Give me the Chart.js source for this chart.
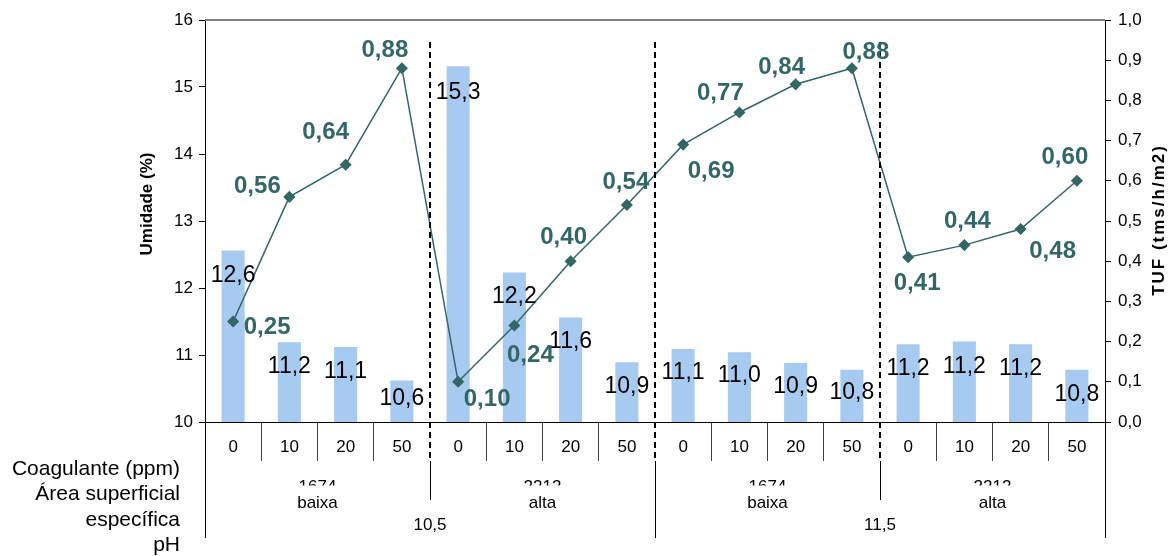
<!DOCTYPE html>
<html><head><meta charset="utf-8">
<script src="https://cdn.jsdelivr.net/npm/chart.js@4"></script>
<style>html,body{margin:0;padding:0;background:#fff}#wrap{width:1175px;height:556px;position:relative}</style>
</head><body><div id="wrap"><canvas id="c"></canvas></div>
<script>
// ---- data ----
const coagulante = ['0','10','20','50','0','10','20','50','0','10','20','50','0','10','20','50'];
const areaValor = ['1674','2212','1674','2212'];
const areaClasse = ['baixa','alta','baixa','alta'];
const phValores = ['10,5','11,5'];
const linhaTitulos = ['Coagulante (ppm)','Área superficial','específica','pH'];
const umidade = [12.56,11.19,11.12,10.62,15.31,12.23,11.56,10.89,11.09,11.04,10.88,10.78,11.16,11.20,11.16,10.78];
const tuf = [0.25,0.56,0.64,0.88,0.10,0.24,0.40,0.54,0.69,0.77,0.84,0.88,0.41,0.44,0.48,0.60];
const tituloEsq = 'Umidade (%)';
const tituloDir = 'TUF (tms/h/m2)';

// ---- label placement (relative to marks) ----
const tufLabelOff = [[34,6],[-32,-11],[-20,-32],[-17,-18],[29,18],[16,30],[-7,-24],[-1,-23],[28,27],[-19,-19],[-14,-17],[14,-16],[9,26],[3,-24],[32,22],[-12,-23]];
const barLabelDy = [25,24,25,18,26,24,24,24,24,23,24,23,24,25,24,25];

const F = "'Liberation Sans', Arial, sans-serif";
const fmt = (v,d) => v.toFixed(d).replace('.', ',');

const decor = {
  id: 'decor',
  afterDatasetsDraw(chart) {
    const {ctx, chartArea: a, scales: {x}} = chart;
    const px = i => x.getPixelForValue(i);
    const edge = i => i === 0 ? a.left : (i === 16 ? a.right : (px(i-1) + px(i)) / 2);
    const ln = (x1,y1,x2,y2) => { ctx.beginPath(); ctx.moveTo(x1,y1); ctx.lineTo(x2,y2); ctx.stroke(); };
    ctx.save();
    // top border
    ctx.strokeStyle = '#808080'; ctx.lineWidth = 2;
    ln(a.left, a.top, a.right, a.top);
    // table lines
    ctx.strokeStyle = '#000'; ctx.lineWidth = 1;
    const r = v => Math.round(v) + 0.5;
    ln(r(a.left), a.bottom, r(a.left), 538);
    ln(r(a.right), a.bottom, r(a.right), 538);
    ln(r(edge(4)), 461, r(edge(4)), 500);
    ln(r(edge(12)), 461, r(edge(12)), 500);
    ln(r(edge(8)), 461, r(edge(8)), 538);
    // dashed separators
    ctx.lineWidth = 2; ctx.setLineDash([6,4]);
    [4,8,12].forEach(i => ln(Math.round(edge(i)), 42, Math.round(edge(i)), 461));
    ctx.setLineDash([]);
    // row titles
    ctx.fillStyle = '#000'; ctx.textAlign = 'right'; ctx.textBaseline = 'middle';
    ctx.font = '21px ' + F;
    [469,494,520,545].forEach((y,i) => ctx.fillText(linhaTitulos[i], 180, y));
    // group labels
    ctx.textAlign = 'center'; ctx.font = '17px ' + F;
    for (let g = 0; g < 4; g++) {
      const cx = (edge(4*g) + edge(4*g+4)) / 2;
      ctx.save();
      ctx.beginPath(); ctx.rect(cx - 60, 462, 120, 23.5); ctx.clip();
      ctx.fillText(areaValor[g], cx, 487);
      ctx.restore();
      ctx.fillText(areaClasse[g], cx, 503);
    }
    for (let p = 0; p < 2; p++) {
      const cx = (edge(8*p) + edge(8*p+8)) / 2;
      ctx.fillText(phValores[p], cx, 525);
    }
    // axis titles
    ctx.font = 'bold 17px ' + F;
    ctx.save(); ctx.translate(147, 204); ctx.rotate(-Math.PI/2); ctx.fillText(tituloEsq, 0, 0); ctx.restore();
    ctx.save(); ctx.translate(1159, 220); ctx.rotate(-Math.PI/2);
    try { ctx.letterSpacing = '2px'; } catch (e) {}
    ctx.fillText(tituloDir, 0, 0);
    try { ctx.letterSpacing = '0px'; } catch (e) {}
    ctx.restore();
    // bar labels
    const mb = chart.getDatasetMeta(0);
    ctx.font = '23px ' + F; ctx.fillStyle = '#000';
    mb.data.forEach((el,i) => ctx.fillText(fmt(umidade[i],1), el.x, el.y + barLabelDy[i]));
    // line labels
    const ml = chart.getDatasetMeta(1);
    ctx.font = 'bold 24px ' + F; ctx.fillStyle = '#336666';
    ml.data.forEach((el,i) => ctx.fillText(fmt(tuf[i],2), el.x + tufLabelOff[i][0], el.y + tufLabelOff[i][1]));
    ctx.restore();
  }
};

const skip = [0,4,8,12,16];
new Chart(document.getElementById('c'), {
  data: {
    labels: coagulante,
    datasets: [
      { type: 'bar', data: umidade, yAxisID: 'y', backgroundColor: '#A6CAF0',
        barPercentage: 0.41, categoryPercentage: 1, order: 2 },
      { type: 'line', data: tuf, yAxisID: 'y1', borderColor: '#336666', borderWidth: 1.5,
        pointStyle: 'rectRot', pointRadius: 5, pointBackgroundColor: '#336666',
        pointBorderColor: '#336666', tension: 0, order: 1 }
    ]
  },
  options: {
    responsive: true, maintainAspectRatio: false, animation: false,
    layout: { padding: { top: 20, left: 0, right: 0, bottom: 0 } },
    plugins: { legend: { display: false }, tooltip: { enabled: false } },
    scales: {
      x: {
        offset: true,
        grid: { offset: true, drawOnChartArea: false, drawTicks: true, tickLength: 39,
                tickColor: c => skip.includes(c.index) ? 'rgba(0,0,0,0)' : '#404040', tickWidth: 1 },
        border: { color: '#000', width: 1 },
        ticks: { autoSkip: false, maxRotation: 0, minRotation: 0, padding: -24,
                 color: '#000', font: { size: 17, family: F } },
        afterFit: s => { s.height = 134; }
      },
      y: {
        position: 'left', min: 10, max: 16,
        ticks: { stepSize: 1, padding: 6, color: '#000', font: { size: 17, family: F } },
        grid: { drawOnChartArea: false, tickLength: 6, tickColor: '#000' },
        border: { color: '#000', width: 1 },
        afterFit: s => { s.width = 205; }
      },
      y1: {
        position: 'right', min: 0, max: 1,
        ticks: { stepSize: 0.1, padding: 7, color: '#000', font: { size: 17, family: F },
                 callback: v => fmt(v,1) },
        grid: { drawOnChartArea: false, tickLength: 6, tickColor: '#000' },
        border: { color: '#000', width: 1 },
        afterFit: s => { s.width = 70; }
      }
    }
  },
  plugins: [decor]
});
</script></body></html>
